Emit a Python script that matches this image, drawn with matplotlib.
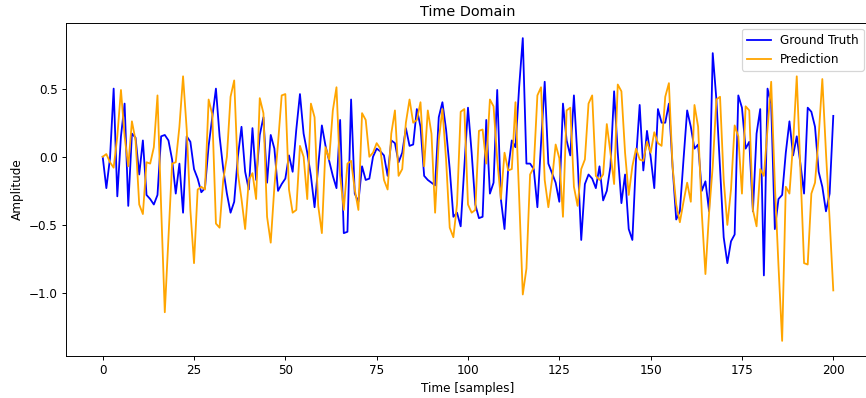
import matplotlib
matplotlib.use("Agg")
import matplotlib.pyplot as plt
import numpy as np

# values, one per sample (0..200)
ground_truth = [
    0.00, -0.23, -0.01, 0.50, -0.29, 0.15, 0.39, -0.36, 0.17, 0.14,
    -0.13, 0.12, -0.28, -0.31, -0.35, -0.28, 0.15, 0.16, 0.12, -0.02,
    -0.27, -0.05, -0.41, 0.15, 0.11, -0.09, -0.16, -0.26, -0.23, 0.08,
    0.29, 0.50, 0.15, -0.09, -0.27, -0.41, -0.33, 0.00, 0.22, -0.11,
    -0.24, 0.21, -0.17, 0.16, 0.29, -0.19, 0.16, 0.06, -0.25, -0.20,
    -0.16, 0.01, -0.11, 0.20, 0.46, 0.17, 0.03, -0.14, -0.37, -0.07,
    0.23, 0.08, -0.03, -0.14, -0.23, 0.27, -0.56, -0.55, 0.42, -0.27,
    -0.33, -0.07, -0.17, -0.16, 0.00, 0.06, 0.04, 0.01, -0.14, 0.12,
    0.10, -0.04, 0.03, 0.21, 0.08, 0.09, 0.35, 0.22, -0.14, -0.17,
    -0.19, -0.21, 0.29, 0.40, 0.20, -0.09, -0.44, -0.41, -0.51, -0.08,
    0.36, 0.03, -0.35, -0.45, -0.44, 0.27, -0.27, -0.19, 0.49, -0.31,
    -0.53, -0.09, 0.12, 0.07, 0.51, 0.87, -0.05, -0.05, -0.09, -0.37,
    0.10, 0.55, -0.05, -0.12, -0.19, -0.33, 0.39, 0.12, 0.01, 0.45,
    -0.02, -0.61, -0.20, -0.13, -0.16, -0.23, -0.07, -0.32, -0.25, -0.07,
    0.48, 0.03, -0.34, -0.13, -0.53, -0.61, -0.02, 0.38, -0.10, 0.19,
    0.00, -0.23, 0.35, 0.25, 0.25, 0.39, -0.07, -0.46, -0.40, -0.02,
    0.34, 0.22, 0.06, 0.09, -0.25, -0.18, -0.40, 0.76, 0.42, -0.09,
    -0.59, -0.78, -0.62, -0.57, 0.45, 0.36, 0.06, 0.11, -0.40, 0.17,
    0.35, -0.87, 0.50, 0.39, -0.53, -0.31, -0.28, 0.03, 0.26, 0.01,
    0.15, -0.05, -0.27, 0.36, 0.33, 0.22, -0.11, -0.22, -0.40, -0.27,
    0.30,
]

prediction = [
    0.00, 0.02, -0.04, -0.08, 0.15, 0.49, 0.15, -0.07, 0.26, 0.12,
    -0.35, -0.42, -0.04, -0.05, 0.07, 0.45, -0.37, -1.14, -0.60, -0.05,
    -0.04, 0.22, 0.59, 0.20, -0.39, -0.78, -0.24, -0.22, -0.24, 0.42,
    0.31, -0.49, -0.52, -0.17, 0.00, 0.44, 0.56, -0.12, -0.31, -0.53,
    -0.17, -0.12, -0.31, 0.43, 0.32, -0.44, -0.63, -0.22, 0.10, 0.45,
    0.46, -0.24, -0.41, -0.39, 0.08, 0.00, -0.31, 0.39, 0.29, -0.36,
    -0.56, 0.07, -0.02, 0.34, 0.51, -0.14, -0.39, -0.05, -0.03, -0.24,
    -0.39, 0.32, 0.27, 0.00, 0.03, 0.10, 0.06, -0.17, -0.24, 0.17,
    0.34, -0.14, -0.09, 0.25, 0.42, 0.25, 0.27, 0.40, -0.07, 0.34,
    0.17, -0.41, 0.12, 0.35, -0.02, -0.52, -0.59, -0.35, 0.33, 0.35,
    -0.35, -0.41, -0.39, 0.19, 0.20, -0.05, 0.42, 0.37, -0.02, -0.31,
    0.03, -0.10, -0.09, 0.40, -0.29, -1.01, -0.82, -0.13, -0.08, 0.45,
    0.51, -0.17, -0.37, -0.17, 0.09, -0.01, -0.44, 0.34, 0.36, -0.22,
    -0.36, -0.09, -0.02, 0.39, 0.45, -0.14, -0.17, -0.13, 0.24, 0.03,
    -0.20, 0.53, 0.48, 0.03, -0.28, -0.07, 0.06, -0.02, -0.03, 0.11,
    0.03, 0.18, 0.10, 0.08, 0.44, 0.54, -0.07, -0.35, -0.48, -0.33,
    -0.19, -0.33, 0.38, 0.22, -0.41, -0.86, -0.41, -0.07, 0.42, 0.44,
    -0.17, -0.50, -0.24, 0.23, 0.15, -0.27, 0.37, 0.34, -0.39, -0.51,
    -0.09, -0.14, 0.20, 0.55, -0.20, -0.80, -1.35, -0.22, -0.27, 0.10,
    0.59, -0.10, -0.78, -0.79, -0.27, -0.19, 0.15, 0.57, 0.03, -0.46,
    -0.98,
]

samples = np.arange(len(ground_truth))

# reference looks like a 10in-wide figure shrunk to 866 px, hence dpi 86.6
DPI = 86.6
fig = plt.figure(figsize=(866 / DPI, 398 / DPI), dpi=DPI)
# the reference is cropped on the right, so the axes runs past the figure edge
ax = fig.add_axes([0.0764, 0.1055, 0.928, 0.8367])

ax.plot(samples, ground_truth, color="blue", label="Ground Truth")
ax.plot(samples, prediction, color="orange", label="Prediction")

ax.set_title("Time Domain")
ax.set_xlabel("Time [samples]")
ax.set_ylabel("Amplitude")
ax.legend(loc="upper right")

fig.savefig("out.png", dpi=DPI)
